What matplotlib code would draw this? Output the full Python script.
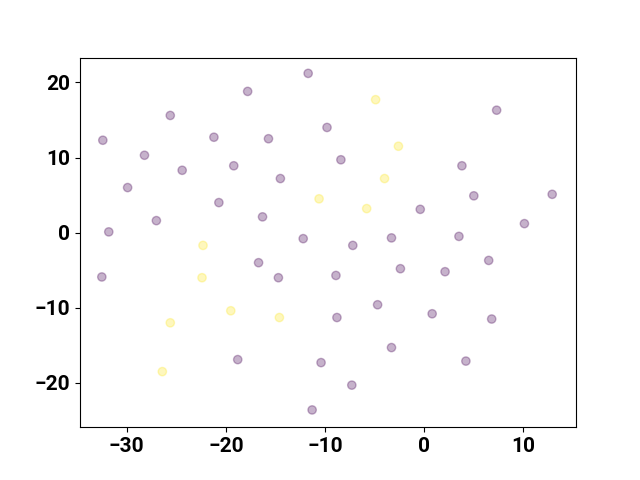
import numpy as np
import matplotlib.pyplot as plt

plt.rcParams['font.family'] = ['Roboto', 'DejaVu Sans']
plt.rcParams['font.weight'] = 'bold'
plt.rcParams['font.size'] = 15

# class 0 (purple)
x0 = [-11.7, -17.8, -25.6, -32.4, -28.2, -21.2, -15.7, -9.8, 7.3, -19.2,
      -24.4, -14.5, -8.4, 3.8, -29.9, -20.7, 5.0, 12.9, -31.8, -27.0,
      -16.3, -0.4, 10.1, -12.2, -7.2, -3.3, 3.5, -32.5, -16.7, -14.7,
      -8.9, -2.4, 2.1, 6.5, -4.7, -8.8, 0.8, 6.8, -3.3, -18.8,
      -10.4, 4.2, -7.3, -11.3]
y0 = [21.2, 18.8, 15.6, 12.3, 10.3, 12.7, 12.5, 14.0, 16.3, 8.9,
      8.3, 7.2, 9.7, 8.9, 6.0, 4.0, 4.9, 5.1, 0.1, 1.6,
      2.1, 3.1, 1.2, -0.8, -1.7, -0.7, -0.5, -5.9, -4.0, -6.0,
      -5.7, -4.8, -5.2, -3.7, -9.6, -11.3, -10.8, -11.5, -15.3, -16.9,
      -17.3, -17.1, -20.3, -23.6]

# class 1 (yellow)
x1 = [-4.9, -2.6, -4.0, -10.6, -5.8, -22.3, -22.4, -19.5, -14.6, -25.6, -26.4]
y1 = [17.7, 11.5, 7.2, 4.5, 3.2, -1.7, -6.0, -10.4, -11.3, -12.0, -18.5]

x = np.array(x0 + x1)
y = np.array(y0 + y1)
labels = np.array([0] * len(x0) + [1] * len(x1))

fig, ax = plt.subplots(figsize=(6.4, 4.8), dpi=100)
ax.scatter(x, y, c=labels, cmap='viridis', alpha=0.3)
ax.set_xlim(-34.7, 15.3)
ax.set_ylim(-25.9, 23.3)
ax.set_xticks([-30, -20, -10, 0, 10])
ax.set_yticks([-20, -10, 0, 10, 20])

fig.savefig('out.png')
